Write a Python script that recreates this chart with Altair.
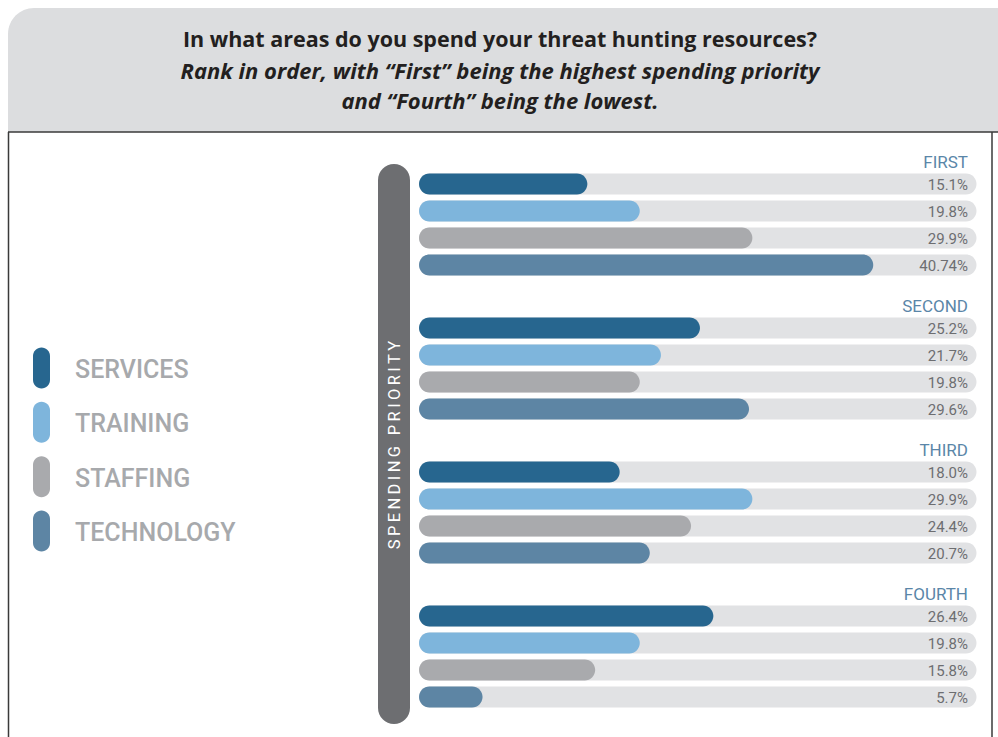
import altair as alt
import pandas as pd

# ---- data ----
groups = ["FIRST", "SECOND", "THIRD", "FOURTH"]
categories = ["SERVICES", "TRAINING", "STAFFING", "TECHNOLOGY"]
first = [15.1, 19.8, 29.9, 40.74]
second = [25.2, 21.7, 19.8, 29.6]
third = [18.0, 29.9, 24.4, 20.7]
fourth = [26.4, 19.8, 15.8, 5.7]
value_labels = [
    ["15.1%", "19.8%", "29.9%", "40.74%"],
    ["25.2%", "21.7%", "19.8%", "29.6%"],
    ["18.0%", "29.9%", "24.4%", "20.7%"],
    ["26.4%", "19.8%", "15.8%", "5.7%"],
]
track_max = 50
colors = ["#27668f", "#7eb5dc", "#a9aaad", "#5d85a4"]

title_lines = [
    "In what areas do you spend your threat hunting resources?",
    "Rank in order, with \u201cFirst\u201d being the highest spending priority",
    "and \u201cFourth\u201d being the lowest.",
]
axis_title = "SPENDING PRIORITY"

# ---- table ----
series = [first, second, third, fourth]
rows = []
for gi, g in enumerate(groups):
    for ci, c in enumerate(categories):
        rows.append({
            "group": g,
            "category": c,
            "value": series[gi][ci],
            "label": value_labels[gi][ci],
            "row": gi * (144 / 27) + ci,
            "track": track_max,
        })
df = pd.DataFrame(rows)
gdf = pd.DataFrame({"group": groups, "row": [gi * (144 / 27) for gi in range(4)]})
ldf = pd.DataFrame({"category": categories})
one = pd.DataFrame({"a": [1]})

FONT = "Roboto"
TFONT = "Open Sans"

xs = alt.Scale(domain=[0, track_max], range=[419, 976.5], padding=0)
ys = alt.Scale(domain=[0, 20], range=[184, 724], padding=0)
cs = alt.Scale(domain=categories, range=colors)

header = alt.Chart(one).mark_rect(color="#dcdddf", cornerRadiusTopLeft=26).encode(
    x=alt.value(8), x2=alt.value(998), y=alt.value(8), y2=alt.value(132)
)
hline = alt.Chart(one).mark_rule(color="#3a3a3a", strokeWidth=1.5).encode(
    x=alt.value(8), x2=alt.value(998), y=alt.value(132)
)
lline = alt.Chart(one).mark_rule(color="#3a3a3a", strokeWidth=1.5).encode(
    x=alt.value(8.5), y=alt.value(132), y2=alt.value(737)
)
rline = alt.Chart(one).mark_rule(color="#3a3a3a", strokeWidth=1.5).encode(
    x=alt.value(992), y=alt.value(132), y2=alt.value(737)
)

t1 = alt.Chart(one).mark_text(
    text=title_lines[0], font=TFONT, fontSize=21.5, fontWeight="bold", color="#231f20",
    align="center", baseline="middle"
).encode(x=alt.value(500), y=alt.value(41))
t2 = alt.Chart(one).mark_text(
    text=title_lines[1], font=TFONT, fontSize=22, fontWeight="bold", fontStyle="italic",
    color="#231f20", align="center", baseline="middle"
).encode(x=alt.value(500), y=alt.value(72))
t3 = alt.Chart(one).mark_text(
    text=title_lines[2], font=TFONT, fontSize=22, fontWeight="bold", fontStyle="italic",
    color="#231f20", align="center", baseline="middle"
).encode(x=alt.value(500), y=alt.value(102))

pill = alt.Chart(one).mark_rect(color="#6d6e71", cornerRadius=16).encode(
    x=alt.value(378), x2=alt.value(410), y=alt.value(164), y2=alt.value(724)
)
spaced = "\u2009".join(list(axis_title))
pill_text = alt.Chart(one).mark_text(
    text=spaced, font=FONT, fontSize=16.5, color="white", angle=270,
    align="center", baseline="middle"
).encode(x=alt.value(395), y=alt.value(445))

tracks = alt.Chart(df).mark_bar(height=21, cornerRadius=10.5, color="#e1e2e4").encode(
    x=alt.X("track:Q", scale=xs, axis=None),
    x2=alt.datum(0),
    y=alt.Y("row:Q", scale=ys, axis=None),
)
bars = alt.Chart(df).mark_bar(height=21, cornerRadius=10.5).encode(
    x=alt.X("value:Q", scale=xs, axis=None),
    x2=alt.datum(0),
    y=alt.Y("row:Q", scale=ys, axis=None),
    color=alt.Color("category:N", scale=cs, legend=None),
)
vtext = alt.Chart(df).mark_text(
    font=FONT, fontSize=15, color="#6d6e71", align="right", baseline="middle", dy=1
).encode(
    x=alt.value(968),
    y=alt.Y("row:Q", scale=ys, axis=None),
    text="label:N",
)
gtext = alt.Chart(gdf).mark_text(
    font=FONT, fontSize=17, color="#5a86a8", align="right", baseline="middle", dy=-21
).encode(
    x=alt.value(968),
    y=alt.Y("row:Q", scale=ys, axis=None),
    text="group:N",
)

legend_ys = alt.Scale(type="point", domain=categories, range=[368, 531], padding=0)
lpills = alt.Chart(ldf).mark_bar(width=17, height=41, cornerRadius=8.5).encode(
    x=alt.value(41.5),
    y=alt.Y("category:N", scale=legend_ys, axis=None),
    color=alt.Color("category:N", scale=cs, legend=None),
)
ltext = alt.Chart(ldf).mark_text(
    font=FONT, fontSize=25, fontWeight=500, color="#a7a9ac", align="left",
    baseline="middle", dy=2
).encode(
    x=alt.value(75),
    y=alt.Y("category:N", scale=legend_ys, axis=None),
    text="category:N",
)

chart = alt.layer(
    header, hline, lline, rline, t1, t2, t3, pill, pill_text,
    tracks, bars, vtext, gtext, lpills, ltext
).resolve_scale(y="independent").properties(
    width=998, height=737, autosize="none", padding=0, background="white"
).configure_view(stroke=None)

chart.save("out.html", embed_options={"renderer": "svg", "actions": False})
